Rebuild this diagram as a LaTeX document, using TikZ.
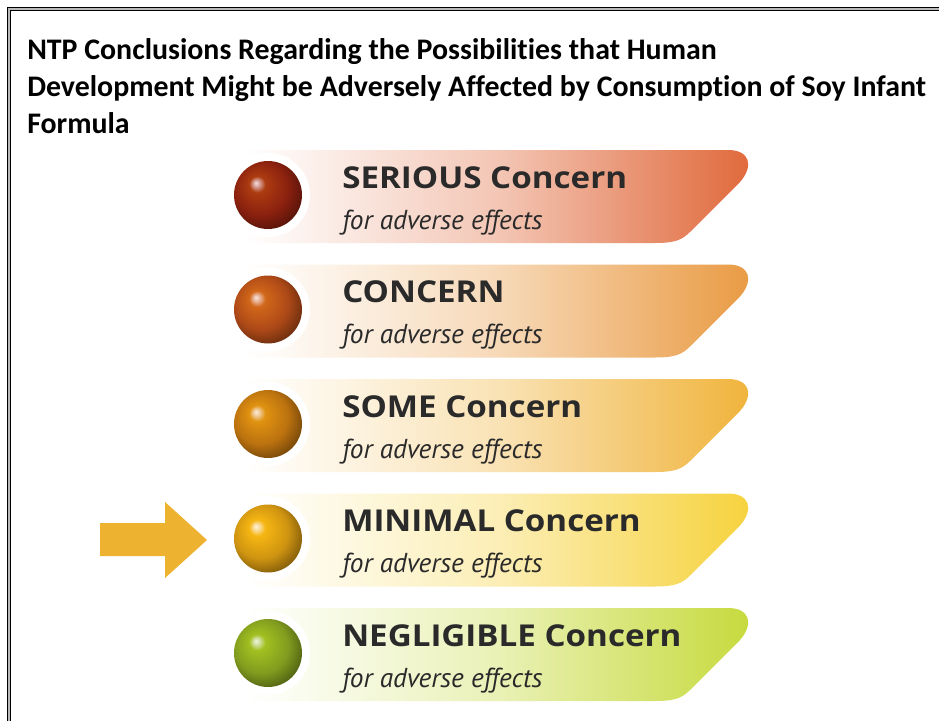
\documentclass[tikz,border=0pt]{standalone}
\usepackage{fontspec}
\setmainfont{Carlito}[Ligatures={NoCommon}]
\newfontfamily\headfont[FakeStretch=1.1]{Open Sans}
\newfontfamily\notefont{PT Sans Italic}
\usepackage{xcolor}
\usetikzlibrary{calc}

\definecolor{bandA}{HTML}{E0683A}
\definecolor{bandB}{HTML}{E99A42}
\definecolor{bandC}{HTML}{F0B33A}
\definecolor{bandD}{HTML}{F6D23C}
\definecolor{bandE}{HTML}{C6DA3C}
\definecolor{orbA}{HTML}{A32612}
\definecolor{orbB}{HTML}{CC561C}
\definecolor{orbC}{HTML}{DD8612}
\definecolor{orbD}{HTML}{F4AE14}
\definecolor{orbE}{HTML}{98B824}
\definecolor{arrowc}{HTML}{EDB230}
\definecolor{inkc}{HTML}{2A2A2A}
\colorlet{orbcol}{orbA}

% shiny ball, light spot up and to the left
\pgfdeclareradialshading[orbcol]{orb}{\pgfpoint{-9bp}{9bp}}{%
  color(0bp)=(orbcol!15!white);
  color(2.5bp)=(orbcol!45!white);
  color(6bp)=(orbcol!90!yellow);
  color(20bp)=(orbcol!85!black);
  color(30bp)=(orbcol!55!black);
  color(50bp)=(orbcol!55!black)}

\begin{document}
\begin{tikzpicture}[x=0.75pt, y=-0.75pt]
	\tikzset{head/.style={anchor=base west, inner sep=0pt, text=inkc, font=\headfont\bfseries\fontsize{22.6}{26}\selectfont}}
	\tikzset{note/.style={anchor=base west, inner sep=0pt, text=inkc, font=\notefont\fontsize{20.5}{24}\selectfont}}

	\useasboundingbox (0,0) rectangle (939,721);
	\fill[white] (0,0) rectangle (939,721);

	% frame, only left and top edges show
	\draw[double=gray!55, double distance=1.5pt, line width=0.75pt] (9,725) -- (9,9) -- (945,9);

	\node (title) [anchor=north west, align=left, inner sep=0pt, font=\bfseries\fontsize{22.4}{27.75}\selectfont] at (27,38)
		{NTP Conclusions Regarding the Possibilities that Human\\
		 Development Might be Adversely Affected by Consumption of Soy Infant\\
		 Formula};

	\foreach \word/\rest/\col/\orbc [count=\i from 0] in {%
			SERIOUS/ Concern/bandA/orbA,
			CONCERN//bandB/orbB,
			SOME/ Concern/bandC/orbC,
			MINIMAL/ Concern/bandD/orbD,
			NEGLIGIBLE/ Concern/bandE/orbE}
		{
		\pgfmathsetmacro\T{150+114.5*\i}
		\pgfmathsetmacro\B{\T+93}
		% band with the clipped right end
		\shade[left color=white, right color=\col, middle color=\col!38!white]
			(245,\T) -- (728,\T) .. controls (750,\T) and (754,\T+16) .. (740,\T+32)
			-- (690,\T+82) .. controls (682,\T+90) and (675,\B) .. (655,\B) -- (245,\B) -- cycle;
		\fill[white] (268,\T+45) circle (42);
		\colorlet{orbcol}{\orbc}
		\shade[shading=orb] (268,\T+45) circle (34);
		\coordinate (orb\i) at (268,\T+45);
		\node (head\i) [head] at (342,\T+38) {\word\rest};
		\node (note\i) [note] at (342,\T+79) {for adverse effects};
		}

	% pointer to the MINIMAL level
	\fill[arrowc] (100,523) -- (165,523) -- (165,502) -- (207,540) -- (165,578) -- (165,556) -- (100,556) -- cycle;

\end{tikzpicture}
\end{document}
